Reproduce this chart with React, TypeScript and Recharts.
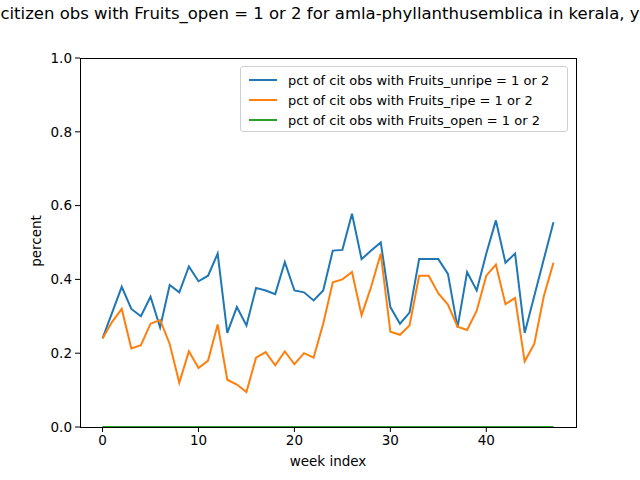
import React from "react";
import { LineChart, Line, XAxis, YAxis } from "recharts";

const unripe = [0.24, 0.31, 0.38, 0.32, 0.3, 0.353, 0.27, 0.385, 0.365, 0.435, 0.395, 0.41, 0.47, 0.255, 0.325, 0.275, 0.377, 0.37, 0.36, 0.447, 0.37, 0.365, 0.343, 0.37, 0.478, 0.48, 0.578, 0.455, 0.478, 0.5, 0.325, 0.28, 0.31, 0.455, 0.455, 0.455, 0.415, 0.27, 0.42, 0.37, 0.47, 0.56, 0.445, 0.47, 0.255, 0.355, 0.455, 0.555];
const ripe = [0.24, 0.285, 0.32, 0.213, 0.222, 0.28, 0.29, 0.225, 0.12, 0.205, 0.16, 0.18, 0.278, 0.128, 0.115, 0.095, 0.188, 0.203, 0.167, 0.205, 0.17, 0.2, 0.188, 0.28, 0.392, 0.4, 0.42, 0.303, 0.38, 0.47, 0.258, 0.25, 0.275, 0.41, 0.41, 0.362, 0.332, 0.272, 0.263, 0.315, 0.41, 0.44, 0.333, 0.35, 0.178, 0.225, 0.355, 0.445];
const open = unripe.map(() => 0);
const xTicks = [0, 10, 20, 30, 40];
const yTicks = [0, 0.2, 0.4, 0.6, 0.8, 1.0];

const data = unripe.map((u, i) => ({ week: i, unripe: u, ripe: ripe[i], open: open[i] }));

const FONT = "DejaVu Sans, sans-serif";
const tick = { fontSize: 13.5, fill: "#000", fontFamily: FONT };

const legendItems = [
  { color: "#1f77b4", label: "pct of cit obs with Fruits_unripe = 1 or 2" },
  { color: "#ff7f0e", label: "pct of cit obs with Fruits_ripe = 1 or 2" },
  { color: "#2ca02c", label: "pct of cit obs with Fruits_open = 1 or 2" },
];

export default function App() {
  return (
    <div style={{ position: "absolute", left: 0, top: 0, width: 640, height: 480, background: "#fff", overflow: "hidden", fontFamily: FONT }}>
      <LineChart width={640} height={480} data={data} margin={{ top: 58, right: 64, bottom: 23, left: 30 }}>
        <XAxis dataKey="week" type="number" domain={[-2.35, 49.35]} ticks={xTicks} height={30}
          tick={tick} tickSize={5} tickMargin={3} stroke="#000" axisLine={false} allowDataOverflow />
        <YAxis domain={[0, 1]} ticks={yTicks} width={50} tick={tick} tickSize={5} tickMargin={3}
          tickFormatter={(v: number) => v.toFixed(1)} stroke="#000" axisLine={false} />
        <Line dataKey="unripe" stroke="#1f77b4" strokeWidth={2} dot={false} isAnimationActive={false} />
        <Line dataKey="ripe" stroke="#ff7f0e" strokeWidth={2} dot={false} isAnimationActive={false} />
        <Line dataKey="open" stroke="#2ca02c" strokeWidth={2} dot={false} isAnimationActive={false} />
      </LineChart>
      <div style={{ position: "absolute", left: 80, top: 58, width: 497, height: 370, border: "1px solid #000", boxSizing: "border-box", pointerEvents: "none" }} />
      <div style={{ position: "absolute", top: 4, left: -200, width: 1040, textAlign: "center", fontSize: 16.5, whiteSpace: "nowrap" }}>
        citizen obs with Fruits_open = 1 or 2 for amla-phyllanthusemblica in kerala, y
      </div>
      <div style={{ position: "absolute", top: 453, left: 80, width: 496, textAlign: "center", fontSize: 13.5 }}>week index</div>
      <div style={{ position: "absolute", left: 36 - 100, top: 243 - 10, width: 200, textAlign: "center", fontSize: 13.5, transform: "rotate(-90deg)" }}>percent</div>
      <div style={{ position: "absolute", left: 240, top: 66, width: 328, height: 66, border: "1px solid #d0d0d0", borderRadius: 3, background: "rgba(255,255,255,0.8)", boxSizing: "border-box", padding: "3px 0 0 8px" }}>
        {legendItems.map((it) => (
          <div key={it.label} style={{ display: "flex", alignItems: "center", height: 20, fontSize: 13, whiteSpace: "nowrap" }}>
            <span style={{ display: "inline-block", width: 28, height: 2, background: it.color, marginRight: 11 }} />
            {it.label}
          </div>
        ))}
      </div>
    </div>
  );
}
